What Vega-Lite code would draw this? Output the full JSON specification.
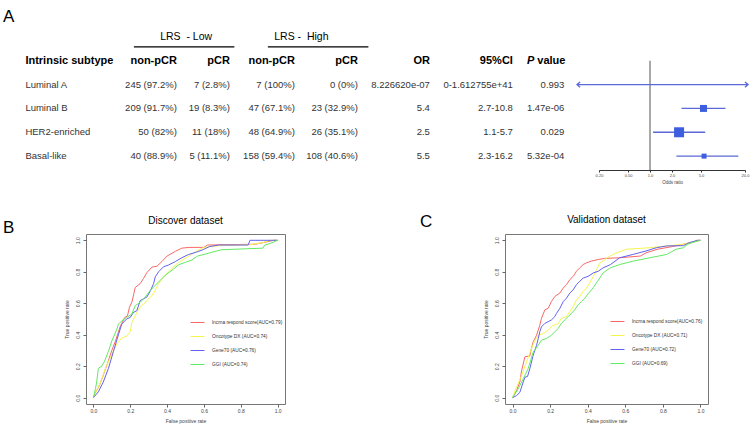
{
  "$schema": "https://vega.github.io/schema/vega-lite/v6.json",
  "background": "white",
  "padding": {"left": 0, "top": 8, "right": 0, "bottom": 0},
  "bounds": "flush",
  "spacing": 208,
  "resolve": {"scale": {"size": "independent", "color": "independent", "stroke": "independent"}, "legend": {"size": "independent", "color": "independent", "stroke": "independent"}},
  "config": {
    "view": {"stroke": null},
    "font": "Liberation Sans",
    "text": {"font": "Liberation Sans"},
    "title": {"font": "Liberation Sans", "fontWeight": "normal", "color": "#000"}
  },
  "datasets": {
    "table": [
      {"subtype": "Luminal A", "lowNon": "245 (97.2%)", "lowP": "7 (2.8%)", "highNon": "7 (100%)", "highP": "0 (0%)", "ORtxt": "8.226620e-07", "CI": "0-1.612755e+41", "P": "0.993", "OR": 8.22662e-7, "lo": 0, "hi": 1.612755e41},
      {"subtype": "Luminal B", "lowNon": "209 (91.7%)", "lowP": "19 (8.3%)", "highNon": "47 (67.1%)", "highP": "23 (32.9%)", "ORtxt": "5.4", "CI": "2.7-10.8", "P": "1.47e-06", "OR": 5.4, "lo": 2.7, "hi": 10.8},
      {"subtype": "HER2-enriched", "lowNon": "50 (82%)", "lowP": "11 (18%)", "highNon": "48 (64.9%)", "highP": "26 (35.1%)", "ORtxt": "2.5", "CI": "1.1-5.7", "P": "0.029", "OR": 2.5, "lo": 1.1, "hi": 5.7},
      {"subtype": "Basal-like", "lowNon": "40 (88.9%)", "lowP": "5 (11.1%)", "highNon": "158 (59.4%)", "highP": "108 (40.6%)", "ORtxt": "5.5", "CI": "2.3-16.2", "P": "5.32e-04", "OR": 5.5, "lo": 2.3, "hi": 16.2}
    ],
    "labelsB": [
      {"curve": "lnc", "label": "lncrna respond score(AUC=0.79)"},
      {"curve": "onc", "label": "Oncotype DX (AUC=0.74)"},
      {"curve": "g70", "label": "Gene70 (AUC=0.76)"},
      {"curve": "ggi", "label": "GGI (AUC=0.74)"}
    ],
    "labelsC": [
      {"curve": "lnc", "label": "lncrna respond score(AUC=0.76)"},
      {"curve": "onc", "label": "Oncotype DX (AUC=0.71)"},
      {"curve": "g70", "label": "Gene70 (AUC=0.72)"},
      {"curve": "ggi", "label": "GGI (AUC=0.69)"}
    ],
    "rocB": [
      {"curve": "lnc", "fpr": 0, "tpr": 0}, {"curve": "lnc", "fpr": 0.01, "tpr": 0.03}, {"curve": "lnc", "fpr": 0.03, "tpr": 0.07}, {"curve": "lnc", "fpr": 0.05, "tpr": 0.13}, {"curve": "lnc", "fpr": 0.08, "tpr": 0.23}, {"curve": "lnc", "fpr": 0.1, "tpr": 0.3}, {"curve": "lnc", "fpr": 0.12, "tpr": 0.36}, {"curve": "lnc", "fpr": 0.145, "tpr": 0.45}, {"curve": "lnc", "fpr": 0.17, "tpr": 0.51}, {"curve": "lnc", "fpr": 0.185, "tpr": 0.52}, {"curve": "lnc", "fpr": 0.196, "tpr": 0.575}, {"curve": "lnc", "fpr": 0.21, "tpr": 0.61}, {"curve": "lnc", "fpr": 0.227, "tpr": 0.7}, {"curve": "lnc", "fpr": 0.254, "tpr": 0.725}, {"curve": "lnc", "fpr": 0.272, "tpr": 0.757}, {"curve": "lnc", "fpr": 0.29, "tpr": 0.794}, {"curve": "lnc", "fpr": 0.318, "tpr": 0.83}, {"curve": "lnc", "fpr": 0.345, "tpr": 0.835}, {"curve": "lnc", "fpr": 0.372, "tpr": 0.865}, {"curve": "lnc", "fpr": 0.4, "tpr": 0.9}, {"curve": "lnc", "fpr": 0.445, "tpr": 0.93}, {"curve": "lnc", "fpr": 0.48, "tpr": 0.95}, {"curve": "lnc", "fpr": 0.52, "tpr": 0.955}, {"curve": "lnc", "fpr": 0.6, "tpr": 0.955}, {"curve": "lnc", "fpr": 0.62, "tpr": 0.97}, {"curve": "lnc", "fpr": 0.88, "tpr": 0.975}, {"curve": "lnc", "fpr": 0.92, "tpr": 0.985}, {"curve": "lnc", "fpr": 0.96, "tpr": 0.995}, {"curve": "lnc", "fpr": 0.98, "tpr": 1}, {"curve": "lnc", "fpr": 1, "tpr": 1},
      {"curve": "onc", "fpr": 0, "tpr": 0}, {"curve": "onc", "fpr": 0.02, "tpr": 0.05}, {"curve": "onc", "fpr": 0.04, "tpr": 0.1}, {"curve": "onc", "fpr": 0.07, "tpr": 0.2}, {"curve": "onc", "fpr": 0.09, "tpr": 0.25}, {"curve": "onc", "fpr": 0.11, "tpr": 0.3}, {"curve": "onc", "fpr": 0.127, "tpr": 0.34}, {"curve": "onc", "fpr": 0.154, "tpr": 0.38}, {"curve": "onc", "fpr": 0.18, "tpr": 0.39}, {"curve": "onc", "fpr": 0.2, "tpr": 0.42}, {"curve": "onc", "fpr": 0.209, "tpr": 0.477}, {"curve": "onc", "fpr": 0.227, "tpr": 0.52}, {"curve": "onc", "fpr": 0.245, "tpr": 0.563}, {"curve": "onc", "fpr": 0.272, "tpr": 0.596}, {"curve": "onc", "fpr": 0.3, "tpr": 0.628}, {"curve": "onc", "fpr": 0.318, "tpr": 0.65}, {"curve": "onc", "fpr": 0.336, "tpr": 0.682}, {"curve": "onc", "fpr": 0.354, "tpr": 0.725}, {"curve": "onc", "fpr": 0.381, "tpr": 0.768}, {"curve": "onc", "fpr": 0.408, "tpr": 0.8}, {"curve": "onc", "fpr": 0.436, "tpr": 0.832}, {"curve": "onc", "fpr": 0.463, "tpr": 0.86}, {"curve": "onc", "fpr": 0.5, "tpr": 0.886}, {"curve": "onc", "fpr": 0.53, "tpr": 0.91}, {"curve": "onc", "fpr": 0.565, "tpr": 0.935}, {"curve": "onc", "fpr": 0.6, "tpr": 0.955}, {"curve": "onc", "fpr": 0.7, "tpr": 0.968}, {"curve": "onc", "fpr": 0.85, "tpr": 0.972}, {"curve": "onc", "fpr": 0.92, "tpr": 0.985}, {"curve": "onc", "fpr": 0.96, "tpr": 1}, {"curve": "onc", "fpr": 1, "tpr": 1},
      {"curve": "g70", "fpr": 0, "tpr": 0}, {"curve": "g70", "fpr": 0.027, "tpr": 0.037}, {"curve": "g70", "fpr": 0.054, "tpr": 0.1}, {"curve": "g70", "fpr": 0.082, "tpr": 0.187}, {"curve": "g70", "fpr": 0.109, "tpr": 0.295}, {"curve": "g70", "fpr": 0.136, "tpr": 0.4}, {"curve": "g70", "fpr": 0.154, "tpr": 0.467}, {"curve": "g70", "fpr": 0.18, "tpr": 0.5}, {"curve": "g70", "fpr": 0.2, "tpr": 0.51}, {"curve": "g70", "fpr": 0.218, "tpr": 0.542}, {"curve": "g70", "fpr": 0.236, "tpr": 0.553}, {"curve": "g70", "fpr": 0.254, "tpr": 0.617}, {"curve": "g70", "fpr": 0.29, "tpr": 0.639}, {"curve": "g70", "fpr": 0.31, "tpr": 0.68}, {"curve": "g70", "fpr": 0.327, "tpr": 0.725}, {"curve": "g70", "fpr": 0.336, "tpr": 0.768}, {"curve": "g70", "fpr": 0.354, "tpr": 0.8}, {"curve": "g70", "fpr": 0.381, "tpr": 0.832}, {"curve": "g70", "fpr": 0.408, "tpr": 0.843}, {"curve": "g70", "fpr": 0.445, "tpr": 0.865}, {"curve": "g70", "fpr": 0.481, "tpr": 0.89}, {"curve": "g70", "fpr": 0.517, "tpr": 0.91}, {"curve": "g70", "fpr": 0.56, "tpr": 0.925}, {"curve": "g70", "fpr": 0.594, "tpr": 0.94}, {"curve": "g70", "fpr": 0.63, "tpr": 0.96}, {"curve": "g70", "fpr": 0.68, "tpr": 0.97}, {"curve": "g70", "fpr": 0.84, "tpr": 0.97}, {"curve": "g70", "fpr": 0.85, "tpr": 1}, {"curve": "g70", "fpr": 1, "tpr": 1},
      {"curve": "ggi", "fpr": 0, "tpr": 0}, {"curve": "ggi", "fpr": 0.012, "tpr": 0.06}, {"curve": "ggi", "fpr": 0.018, "tpr": 0.1}, {"curve": "ggi", "fpr": 0.027, "tpr": 0.187}, {"curve": "ggi", "fpr": 0.045, "tpr": 0.2}, {"curve": "ggi", "fpr": 0.06, "tpr": 0.23}, {"curve": "ggi", "fpr": 0.082, "tpr": 0.295}, {"curve": "ggi", "fpr": 0.1, "tpr": 0.36}, {"curve": "ggi", "fpr": 0.127, "tpr": 0.434}, {"curve": "ggi", "fpr": 0.136, "tpr": 0.467}, {"curve": "ggi", "fpr": 0.154, "tpr": 0.488}, {"curve": "ggi", "fpr": 0.18, "tpr": 0.51}, {"curve": "ggi", "fpr": 0.209, "tpr": 0.531}, {"curve": "ggi", "fpr": 0.227, "tpr": 0.585}, {"curve": "ggi", "fpr": 0.254, "tpr": 0.606}, {"curve": "ggi", "fpr": 0.281, "tpr": 0.639}, {"curve": "ggi", "fpr": 0.309, "tpr": 0.682}, {"curve": "ggi", "fpr": 0.336, "tpr": 0.714}, {"curve": "ggi", "fpr": 0.363, "tpr": 0.746}, {"curve": "ggi", "fpr": 0.39, "tpr": 0.778}, {"curve": "ggi", "fpr": 0.427, "tpr": 0.81}, {"curve": "ggi", "fpr": 0.463, "tpr": 0.845}, {"curve": "ggi", "fpr": 0.5, "tpr": 0.86}, {"curve": "ggi", "fpr": 0.535, "tpr": 0.875}, {"curve": "ggi", "fpr": 0.565, "tpr": 0.9}, {"curve": "ggi", "fpr": 0.6, "tpr": 0.91}, {"curve": "ggi", "fpr": 0.694, "tpr": 0.94}, {"curve": "ggi", "fpr": 0.92, "tpr": 0.95}, {"curve": "ggi", "fpr": 0.93, "tpr": 0.97}, {"curve": "ggi", "fpr": 0.96, "tpr": 0.98}, {"curve": "ggi", "fpr": 1, "tpr": 1}
    ],
    "rocC": [
      {"curve": "lnc", "fpr": 0, "tpr": 0}, {"curve": "lnc", "fpr": 0.021, "tpr": 0.045}, {"curve": "lnc", "fpr": 0.039, "tpr": 0.1}, {"curve": "lnc", "fpr": 0.048, "tpr": 0.17}, {"curve": "lnc", "fpr": 0.066, "tpr": 0.26}, {"curve": "lnc", "fpr": 0.092, "tpr": 0.265}, {"curve": "lnc", "fpr": 0.1, "tpr": 0.31}, {"curve": "lnc", "fpr": 0.11, "tpr": 0.355}, {"curve": "lnc", "fpr": 0.128, "tpr": 0.397}, {"curve": "lnc", "fpr": 0.145, "tpr": 0.46}, {"curve": "lnc", "fpr": 0.154, "tpr": 0.504}, {"curve": "lnc", "fpr": 0.172, "tpr": 0.558}, {"curve": "lnc", "fpr": 0.19, "tpr": 0.568}, {"curve": "lnc", "fpr": 0.207, "tpr": 0.611}, {"curve": "lnc", "fpr": 0.225, "tpr": 0.643}, {"curve": "lnc", "fpr": 0.252, "tpr": 0.665}, {"curve": "lnc", "fpr": 0.27, "tpr": 0.697}, {"curve": "lnc", "fpr": 0.287, "tpr": 0.718}, {"curve": "lnc", "fpr": 0.305, "tpr": 0.75}, {"curve": "lnc", "fpr": 0.323, "tpr": 0.771}, {"curve": "lnc", "fpr": 0.34, "tpr": 0.803}, {"curve": "lnc", "fpr": 0.358, "tpr": 0.825}, {"curve": "lnc", "fpr": 0.376, "tpr": 0.846}, {"curve": "lnc", "fpr": 0.394, "tpr": 0.857}, {"curve": "lnc", "fpr": 0.42, "tpr": 0.868}, {"curve": "lnc", "fpr": 0.456, "tpr": 0.878}, {"curve": "lnc", "fpr": 0.49, "tpr": 0.885}, {"curve": "lnc", "fpr": 0.57, "tpr": 0.889}, {"curve": "lnc", "fpr": 0.68, "tpr": 0.9}, {"curve": "lnc", "fpr": 0.71, "tpr": 0.92}, {"curve": "lnc", "fpr": 0.77, "tpr": 0.943}, {"curve": "lnc", "fpr": 0.85, "tpr": 0.96}, {"curve": "lnc", "fpr": 0.91, "tpr": 0.975}, {"curve": "lnc", "fpr": 0.96, "tpr": 0.99}, {"curve": "lnc", "fpr": 0.98, "tpr": 1}, {"curve": "lnc", "fpr": 1, "tpr": 1},
      {"curve": "onc", "fpr": 0, "tpr": 0}, {"curve": "onc", "fpr": 0.021, "tpr": 0.066}, {"curve": "onc", "fpr": 0.048, "tpr": 0.14}, {"curve": "onc", "fpr": 0.074, "tpr": 0.226}, {"curve": "onc", "fpr": 0.1, "tpr": 0.31}, {"curve": "onc", "fpr": 0.119, "tpr": 0.365}, {"curve": "onc", "fpr": 0.137, "tpr": 0.397}, {"curve": "onc", "fpr": 0.163, "tpr": 0.408}, {"curve": "onc", "fpr": 0.19, "tpr": 0.43}, {"curve": "onc", "fpr": 0.216, "tpr": 0.46}, {"curve": "onc", "fpr": 0.243, "tpr": 0.47}, {"curve": "onc", "fpr": 0.26, "tpr": 0.504}, {"curve": "onc", "fpr": 0.287, "tpr": 0.515}, {"curve": "onc", "fpr": 0.305, "tpr": 0.547}, {"curve": "onc", "fpr": 0.323, "tpr": 0.579}, {"curve": "onc", "fpr": 0.34, "tpr": 0.622}, {"curve": "onc", "fpr": 0.358, "tpr": 0.643}, {"curve": "onc", "fpr": 0.376, "tpr": 0.675}, {"curve": "onc", "fpr": 0.394, "tpr": 0.697}, {"curve": "onc", "fpr": 0.411, "tpr": 0.729}, {"curve": "onc", "fpr": 0.43, "tpr": 0.771}, {"curve": "onc", "fpr": 0.447, "tpr": 0.814}, {"curve": "onc", "fpr": 0.465, "tpr": 0.855}, {"curve": "onc", "fpr": 0.49, "tpr": 0.875}, {"curve": "onc", "fpr": 0.51, "tpr": 0.895}, {"curve": "onc", "fpr": 0.544, "tpr": 0.915}, {"curve": "onc", "fpr": 0.606, "tpr": 0.943}, {"curve": "onc", "fpr": 0.73, "tpr": 0.953}, {"curve": "onc", "fpr": 0.82, "tpr": 0.964}, {"curve": "onc", "fpr": 0.91, "tpr": 0.975}, {"curve": "onc", "fpr": 0.97, "tpr": 0.99}, {"curve": "onc", "fpr": 1, "tpr": 1},
      {"curve": "g70", "fpr": 0, "tpr": 0}, {"curve": "g70", "fpr": 0.021, "tpr": 0.013}, {"curve": "g70", "fpr": 0.039, "tpr": 0.034}, {"curve": "g70", "fpr": 0.057, "tpr": 0.1}, {"curve": "g70", "fpr": 0.066, "tpr": 0.13}, {"curve": "g70", "fpr": 0.08, "tpr": 0.135}, {"curve": "g70", "fpr": 0.092, "tpr": 0.184}, {"curve": "g70", "fpr": 0.11, "tpr": 0.27}, {"curve": "g70", "fpr": 0.128, "tpr": 0.333}, {"curve": "g70", "fpr": 0.137, "tpr": 0.376}, {"curve": "g70", "fpr": 0.145, "tpr": 0.419}, {"curve": "g70", "fpr": 0.154, "tpr": 0.45}, {"curve": "g70", "fpr": 0.172, "tpr": 0.472}, {"curve": "g70", "fpr": 0.19, "tpr": 0.483}, {"curve": "g70", "fpr": 0.207, "tpr": 0.494}, {"curve": "g70", "fpr": 0.225, "tpr": 0.515}, {"curve": "g70", "fpr": 0.234, "tpr": 0.536}, {"curve": "g70", "fpr": 0.252, "tpr": 0.568}, {"curve": "g70", "fpr": 0.27, "tpr": 0.611}, {"curve": "g70", "fpr": 0.287, "tpr": 0.632}, {"curve": "g70", "fpr": 0.305, "tpr": 0.665}, {"curve": "g70", "fpr": 0.323, "tpr": 0.686}, {"curve": "g70", "fpr": 0.34, "tpr": 0.718}, {"curve": "g70", "fpr": 0.358, "tpr": 0.74}, {"curve": "g70", "fpr": 0.376, "tpr": 0.76}, {"curve": "g70", "fpr": 0.402, "tpr": 0.771}, {"curve": "g70", "fpr": 0.43, "tpr": 0.793}, {"curve": "g70", "fpr": 0.456, "tpr": 0.803}, {"curve": "g70", "fpr": 0.482, "tpr": 0.825}, {"curve": "g70", "fpr": 0.52, "tpr": 0.845}, {"curve": "g70", "fpr": 0.57, "tpr": 0.889}, {"curve": "g70", "fpr": 0.64, "tpr": 0.91}, {"curve": "g70", "fpr": 0.71, "tpr": 0.932}, {"curve": "g70", "fpr": 0.766, "tpr": 0.953}, {"curve": "g70", "fpr": 0.82, "tpr": 0.964}, {"curve": "g70", "fpr": 0.91, "tpr": 0.966}, {"curve": "g70", "fpr": 0.94, "tpr": 0.985}, {"curve": "g70", "fpr": 0.99, "tpr": 1}, {"curve": "g70", "fpr": 1, "tpr": 1},
      {"curve": "ggi", "fpr": 0, "tpr": 0}, {"curve": "ggi", "fpr": 0.03, "tpr": 0.056}, {"curve": "ggi", "fpr": 0.057, "tpr": 0.12}, {"curve": "ggi", "fpr": 0.083, "tpr": 0.184}, {"curve": "ggi", "fpr": 0.11, "tpr": 0.29}, {"curve": "ggi", "fpr": 0.137, "tpr": 0.333}, {"curve": "ggi", "fpr": 0.154, "tpr": 0.365}, {"curve": "ggi", "fpr": 0.18, "tpr": 0.376}, {"curve": "ggi", "fpr": 0.207, "tpr": 0.397}, {"curve": "ggi", "fpr": 0.225, "tpr": 0.419}, {"curve": "ggi", "fpr": 0.243, "tpr": 0.44}, {"curve": "ggi", "fpr": 0.26, "tpr": 0.472}, {"curve": "ggi", "fpr": 0.278, "tpr": 0.494}, {"curve": "ggi", "fpr": 0.296, "tpr": 0.515}, {"curve": "ggi", "fpr": 0.314, "tpr": 0.536}, {"curve": "ggi", "fpr": 0.33, "tpr": 0.558}, {"curve": "ggi", "fpr": 0.35, "tpr": 0.59}, {"curve": "ggi", "fpr": 0.367, "tpr": 0.611}, {"curve": "ggi", "fpr": 0.385, "tpr": 0.632}, {"curve": "ggi", "fpr": 0.402, "tpr": 0.66}, {"curve": "ggi", "fpr": 0.43, "tpr": 0.7}, {"curve": "ggi", "fpr": 0.464, "tpr": 0.76}, {"curve": "ggi", "fpr": 0.482, "tpr": 0.793}, {"curve": "ggi", "fpr": 0.52, "tpr": 0.825}, {"curve": "ggi", "fpr": 0.57, "tpr": 0.846}, {"curve": "ggi", "fpr": 0.64, "tpr": 0.867}, {"curve": "ggi", "fpr": 0.73, "tpr": 0.889}, {"curve": "ggi", "fpr": 0.82, "tpr": 0.91}, {"curve": "ggi", "fpr": 0.87, "tpr": 0.943}, {"curve": "ggi", "fpr": 0.91, "tpr": 0.953}, {"curve": "ggi", "fpr": 0.93, "tpr": 0.974}, {"curve": "ggi", "fpr": 0.97, "tpr": 0.99}, {"curve": "ggi", "fpr": 1, "tpr": 1}
    ]
  },
  "vconcat": [
    {
      "bounds": "flush",
      "spacing": 0,
      "hconcat": [
        {
          "width": 599,
          "height": 144,
          "title": {"text": "A", "anchor": "start", "frame": "group", "fontSize": 17, "offset": 0, "dx": 3},
          "encoding": {
            "x": {"scale": {"type": "band", "domain": ["label", "lowNon", "lowP", "highNon", "highP", "ORtxt", "CI", "P"], "paddingInner": 0, "paddingOuter": 0.47, "align": 0.53}, "axis": null},
            "y": {"scale": {"type": "point", "domain": ["LRS", "hdr", "Luminal A", "Luminal B", "HER2-enriched", "Basal-like"], "padding": 0.52, "align": 0.44}, "axis": null}
          },
          "layer": [
            {
              "data": {"name": "table"},
              "mark": {"type": "text", "align": "left", "baseline": "middle", "fontSize": 9.5, "color": "#333", "dx": -8},
              "encoding": {"x": {"datum": "label", "type": "nominal", "bandPosition": 0}, "y": {"field": "subtype", "type": "nominal"}, "text": {"field": "subtype"}}
            },
            {
              "data": {"values": [{"label": "Intrinsic subtype"}]},
              "mark": {"type": "text", "align": "left", "baseline": "middle", "fontSize": 11, "fontWeight": "bold", "color": "#000", "dx": -8},
              "encoding": {"x": {"datum": "label", "type": "nominal", "bandPosition": 0}, "y": {"datum": "hdr", "type": "nominal"}, "text": {"field": "label"}}
            },
            {
              "data": {"name": "table"},
              "mark": {"type": "text", "align": "right", "baseline": "middle", "fontSize": 9.5, "color": "#333", "dx": 9.5},
              "encoding": {"x": {"datum": "lowNon", "type": "nominal", "bandPosition": 1}, "y": {"field": "subtype", "type": "nominal"}, "text": {"field": "lowNon"}}
            },
            {
              "data": {"values": [{"label": "non-pCR"}]},
              "mark": {"type": "text", "align": "right", "baseline": "middle", "fontSize": 11, "fontWeight": "bold", "color": "#000", "dx": 9.5},
              "encoding": {"x": {"datum": "lowNon", "type": "nominal", "bandPosition": 1}, "y": {"datum": "hdr", "type": "nominal"}, "text": {"field": "label"}}
            },
            {
              "data": {"name": "table"},
              "mark": {"type": "text", "align": "right", "baseline": "middle", "fontSize": 9.5, "color": "#333", "dx": -4.5},
              "encoding": {"x": {"datum": "lowP", "type": "nominal", "bandPosition": 1}, "y": {"field": "subtype", "type": "nominal"}, "text": {"field": "lowP"}}
            },
            {
              "data": {"values": [{"label": "pCR"}]},
              "mark": {"type": "text", "align": "right", "baseline": "middle", "fontSize": 11, "fontWeight": "bold", "color": "#000", "dx": -4.5},
              "encoding": {"x": {"datum": "lowP", "type": "nominal", "bandPosition": 1}, "y": {"datum": "hdr", "type": "nominal"}, "text": {"field": "label"}}
            },
            {
              "data": {"name": "table"},
              "mark": {"type": "text", "align": "right", "baseline": "middle", "fontSize": 9.5, "color": "#333", "dx": -6.5},
              "encoding": {"x": {"datum": "highNon", "type": "nominal", "bandPosition": 1}, "y": {"field": "subtype", "type": "nominal"}, "text": {"field": "highNon"}}
            },
            {
              "data": {"values": [{"label": "non-pCR"}]},
              "mark": {"type": "text", "align": "right", "baseline": "middle", "fontSize": 11, "fontWeight": "bold", "color": "#000", "dx": -6.5},
              "encoding": {"x": {"datum": "highNon", "type": "nominal", "bandPosition": 1}, "y": {"datum": "hdr", "type": "nominal"}, "text": {"field": "label"}}
            },
            {
              "data": {"name": "table"},
              "mark": {"type": "text", "align": "right", "baseline": "middle", "fontSize": 9.5, "color": "#333", "dx": -10.5},
              "encoding": {"x": {"datum": "highP", "type": "nominal", "bandPosition": 1}, "y": {"field": "subtype", "type": "nominal"}, "text": {"field": "highP"}}
            },
            {
              "data": {"values": [{"label": "pCR"}]},
              "mark": {"type": "text", "align": "right", "baseline": "middle", "fontSize": 11, "fontWeight": "bold", "color": "#000", "dx": -10.5},
              "encoding": {"x": {"datum": "highP", "type": "nominal", "bandPosition": 1}, "y": {"datum": "hdr", "type": "nominal"}, "text": {"field": "label"}}
            },
            {
              "data": {"name": "table"},
              "mark": {"type": "text", "align": "right", "baseline": "middle", "fontSize": 9.5, "color": "#333", "dx": -5.5},
              "encoding": {"x": {"datum": "ORtxt", "type": "nominal", "bandPosition": 1}, "y": {"field": "subtype", "type": "nominal"}, "text": {"field": "ORtxt"}}
            },
            {
              "data": {"values": [{"label": "OR"}]},
              "mark": {"type": "text", "align": "right", "baseline": "middle", "fontSize": 11, "fontWeight": "bold", "color": "#000", "dx": -5.5},
              "encoding": {"x": {"datum": "ORtxt", "type": "nominal", "bandPosition": 1}, "y": {"datum": "hdr", "type": "nominal"}, "text": {"field": "label"}}
            },
            {
              "data": {"name": "table"},
              "mark": {"type": "text", "align": "right", "baseline": "middle", "fontSize": 9.5, "color": "#333", "dx": 10.5},
              "encoding": {"x": {"datum": "CI", "type": "nominal", "bandPosition": 1}, "y": {"field": "subtype", "type": "nominal"}, "text": {"field": "CI"}}
            },
            {
              "data": {"values": [{"label": "95%CI"}]},
              "mark": {"type": "text", "align": "right", "baseline": "middle", "fontSize": 11, "fontWeight": "bold", "color": "#000", "dx": 10.5},
              "encoding": {"x": {"datum": "CI", "type": "nominal", "bandPosition": 1}, "y": {"datum": "hdr", "type": "nominal"}, "text": {"field": "label"}}
            },
            {
              "data": {"name": "table"},
              "mark": {"type": "text", "align": "right", "baseline": "middle", "fontSize": 9.5, "color": "#333", "dx": -5},
              "encoding": {"x": {"datum": "P", "type": "nominal", "bandPosition": 1}, "y": {"field": "subtype", "type": "nominal"}, "text": {"field": "P"}}
            },
            {
              "data": {"values": [{"label": "value"}]},
              "mark": {"type": "text", "align": "right", "baseline": "middle", "fontSize": 11, "fontWeight": "bold", "color": "#000", "dx": -4},
              "encoding": {"x": {"datum": "P", "type": "nominal", "bandPosition": 1}, "y": {"datum": "hdr", "type": "nominal"}, "text": {"field": "label"}}
            },
            {
              "data": {"values": [{"label": "P"}]},
              "mark": {"type": "text", "align": "right", "baseline": "middle", "fontSize": 11, "fontWeight": "bold", "fontStyle": "italic", "color": "#000", "dx": -35},
              "encoding": {"x": {"datum": "P", "type": "nominal", "bandPosition": 1}, "y": {"datum": "hdr", "type": "nominal"}, "text": {"field": "label"}}
            },
            {
              "data": {"values": [{"grp": "LRS\u00a0 - Low"}]},
              "mark": {"type": "text", "align": "center", "baseline": "middle", "fontSize": 10.5, "color": "#000"},
              "encoding": {"x": {"datum": "lowP", "type": "nominal", "bandPosition": 0.28}, "y": {"datum": "LRS", "type": "nominal"}, "text": {"field": "grp"}}
            },
            {
              "data": {"values": [{"grp": "LRS - \u00a0High"}]},
              "mark": {"type": "text", "align": "center", "baseline": "middle", "fontSize": 10.5, "color": "#000"},
              "encoding": {"x": {"datum": "highP", "type": "nominal", "bandPosition": 0}, "y": {"datum": "LRS", "type": "nominal"}, "text": {"field": "grp"}}
            },
            {
              "data": {"values": [{"first": "lowNon", "last": "lowP"}, {"first": "highNon", "last": "highP"}]},
              "mark": {"type": "rule", "color": "#000", "strokeWidth": 1.3, "yOffset": 10},
              "encoding": {"x": {"field": "first", "type": "nominal", "bandPosition": 0.5}, "x2": {"field": "last", "bandPosition": 1}, "y": {"datum": "LRS", "type": "nominal"}}
            }
          ]
        },
        {
          "width": 146,
          "height": 144,
          "layer": [
            {
              "data": {"values": [{"ref": 1}]},
              "mark": {"type": "rule", "color": "#8c8c8c", "strokeWidth": 1.5},
              "encoding": {
                "x": {"field": "ref", "type": "quantitative", "scale": {"type": "log", "domain": [0.2, 20], "clamp": true, "nice": false},
                  "axis": {"values": [0.2, 0.5, 1, 2, 5, 20], "labelExpr": "datum.value < 1 ? format(datum.value, '.2f') : format(datum.value, '.1f')", "title": "Odds ratio", "domain": true, "domainColor": "#333", "ticks": true, "tickSize": 2, "tickColor": "#333", "labelFontSize": 4, "labelPadding": 1.5, "labelColor": "#444", "titleFontSize": 4.5, "titleFontWeight": "normal", "titleColor": "#444", "titlePadding": 1.5, "labelOverlap": false, "labelFlush": false, "grid": false}},
                "y": {"datum": "hdr", "type": "nominal", "scale": {"type": "point", "domain": ["LRS", "hdr", "Luminal A", "Luminal B", "HER2-enriched", "Basal-like"], "padding": 0.52, "align": 0.44}, "axis": null},
                "y2": {"value": "height"}
              }
            },
            {
              "data": {"name": "table"},
              "mark": {"type": "rule", "color": "#5b69d6", "strokeWidth": 1.3},
              "encoding": {"x": {"field": "lo", "type": "quantitative"}, "x2": {"field": "hi"}, "y": {"field": "subtype", "type": "nominal"}}
            },
            {
              "data": {"name": "table"},
              "transform": [{"filter": "datum.OR >= 0.2"}],
              "mark": {"type": "point", "shape": "square", "filled": true, "color": "#3e5ee0", "opacity": 1},
              "encoding": {
                "x": {"field": "OR", "type": "quantitative"},
                "y": {"field": "subtype", "type": "nominal"},
                "size": {"field": "subtype", "type": "nominal", "scale": {"type": "ordinal", "domain": ["Basal-like", "Luminal B", "HER2-enriched"], "range": [25, 49, 100]}, "legend": null}
              }
            },
            {
              "data": {"name": "table"},
              "transform": [{"filter": "datum.lo < 0.2"}],
              "mark": {"type": "point", "shape": "M0,0L-1,0M-0.86,-0.12L-1,0L-0.86,0.12", "size": 1936, "filled": false, "color": "#5b69d6", "strokeWidth": 1.3, "opacity": 1},
              "encoding": {"x": {"field": "lo", "type": "quantitative"}, "y": {"field": "subtype", "type": "nominal"}}
            },
            {
              "data": {"name": "table"},
              "transform": [{"filter": "datum.hi > 20"}],
              "mark": {"type": "point", "shape": "M0,0L0.14,0M0,-0.12L0.14,0L0,0.12", "size": 1936, "filled": false, "color": "#5b69d6", "strokeWidth": 1.3, "opacity": 1},
              "encoding": {"x": {"field": "hi", "type": "quantitative"}, "y": {"field": "subtype", "type": "nominal"}}
            }
          ]
        }
      ]
    },
    {
      "bounds": "flush",
      "spacing": 0,
      "resolve": {"scale": {"color": "independent", "stroke": "independent"}, "legend": {"color": "independent", "stroke": "independent"}},
      "hconcat": [
        {
          "width": 86,
          "height": 170,
          "title": {"text": "B", "anchor": "start", "frame": "group", "fontSize": 17, "offset": -3, "dx": 3},
          "data": {"values": []},
          "mark": "text"
        },
        {
          "width": 199,
          "height": 170,
          "view": {"stroke": "#777", "strokeWidth": 1},
          "title": {"text": "Discover dataset", "anchor": "middle", "frame": "group", "fontSize": 10, "offset": 8},
          "data": {"name": "rocB"},
          "transform": [{"lookup": "curve", "from": {"data": {"name": "labelsB"}, "key": "curve", "fields": ["label"]}}],
          "mark": {"type": "line", "strokeWidth": 1},
          "encoding": {
            "x": {"field": "fpr", "type": "quantitative", "scale": {"domain": [-0.04, 1.04], "nice": false, "zero": false},
              "axis": {"values": [0, 0.2, 0.4, 0.6, 0.8, 1], "format": ".1f", "title": "False positive rate", "domain": false, "grid": false, "tickSize": 3, "tickColor": "#666", "labelFontSize": 5, "labelColor": "#444", "labelPadding": 1.5, "titleFontSize": 5, "titleFontWeight": "normal", "titleColor": "#444", "titlePadding": 5, "labelFlush": false, "labelOverlap": false}},
            "y": {"field": "tpr", "type": "quantitative", "scale": {"domain": [-0.04, 1.04], "nice": false, "zero": false},
              "axis": {"values": [0, 0.2, 0.4, 0.6, 0.8, 1], "format": ".1f", "title": "True positive rate", "domain": false, "grid": false, "tickSize": 3, "tickColor": "#666", "labelFontSize": 5, "labelColor": "#444", "labelAngle": 270, "labelAlign": "center", "labelBaseline": "bottom", "labelPadding": 3, "titleFontSize": 5, "titleFontWeight": "normal", "titleColor": "#444", "titlePadding": 6, "labelFlush": false, "labelOverlap": false}},
            "color": {"field": "label", "type": "nominal",
              "scale": {"domain": ["lncrna respond score(AUC=0.79)", "Oncotype DX (AUC=0.74)", "Gene70 (AUC=0.76)", "GGI (AUC=0.74)"], "range": ["#f86868", "#f5f550", "#6262f0", "#62ea62"]},
              "legend": {"title": null, "orient": "none", "legendX": 104, "legendY": 81, "symbolType": "stroke", "symbolSize": 196, "symbolStrokeWidth": 1, "labelFontSize": 4.8, "labelOffset": 7, "rowPadding": 4, "padding": 0, "labelColor": "#333", "labelLimit": 0}}
          }
        },
        {
          "width": 220,
          "height": 170,
          "title": {"text": "C", "anchor": "start", "frame": "group", "fontSize": 17, "offset": 3, "dx": 135},
          "data": {"values": []},
          "mark": "text"
        },
        {
          "width": 203,
          "height": 170,
          "view": {"stroke": "#777", "strokeWidth": 1},
          "title": {"text": "Validation dataset", "anchor": "middle", "frame": "group", "fontSize": 10, "offset": 9},
          "data": {"name": "rocC"},
          "transform": [{"lookup": "curve", "from": {"data": {"name": "labelsC"}, "key": "curve", "fields": ["label"]}}],
          "mark": {"type": "line", "strokeWidth": 1},
          "encoding": {
            "x": {"field": "fpr", "type": "quantitative", "scale": {"domain": [-0.04, 1.04], "nice": false, "zero": false},
              "axis": {"values": [0, 0.2, 0.4, 0.6, 0.8, 1], "format": ".1f", "title": "False positive rate", "domain": false, "grid": false, "tickSize": 3, "tickColor": "#666", "labelFontSize": 5, "labelColor": "#444", "labelPadding": 1.5, "titleFontSize": 5, "titleFontWeight": "normal", "titleColor": "#444", "titlePadding": 5, "labelFlush": false, "labelOverlap": false}},
            "y": {"field": "tpr", "type": "quantitative", "scale": {"domain": [-0.04, 1.04], "nice": false, "zero": false},
              "axis": {"values": [0, 0.2, 0.4, 0.6, 0.8, 1], "format": ".1f", "title": "True positive rate", "domain": false, "grid": false, "tickSize": 3, "tickColor": "#666", "labelFontSize": 5, "labelColor": "#444", "labelAngle": 270, "labelAlign": "center", "labelBaseline": "bottom", "labelPadding": 3, "titleFontSize": 5, "titleFontWeight": "normal", "titleColor": "#444", "titlePadding": 6, "labelFlush": false, "labelOverlap": false}},
            "stroke": {"field": "label", "type": "nominal",
              "scale": {"domain": ["lncrna respond score(AUC=0.76)", "Oncotype DX (AUC=0.71)", "Gene70 (AUC=0.72)", "GGI (AUC=0.69)"], "range": ["#f86868", "#f5f550", "#6262f0", "#62ea62"]},
              "legend": {"title": null, "orient": "none", "legendX": 105, "legendY": 80, "symbolType": "stroke", "symbolSize": 196, "symbolStrokeWidth": 1, "labelFontSize": 4.8, "labelOffset": 7, "rowPadding": 4, "padding": 0, "labelColor": "#333", "labelLimit": 0}}
          }
        }
      ]
    }
  ]
}
